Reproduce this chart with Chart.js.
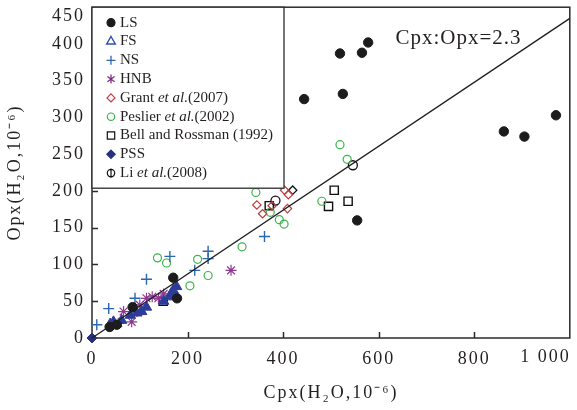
<!DOCTYPE html>
<html>
<head>
<meta charset="utf-8">
<script src="https://cdn.jsdelivr.net/npm/chart.js@4/dist/chart.umd.min.js"></script>
<style>
  html, body { margin: 0; padding: 0; background: #fff; }
</style>
</head>
<body>
<canvas id="chart" width="577" height="410"></canvas>
<script>
// DATA (Cpx vs Opx water content, 10^-6)
const lsPoints = [[37, 15], [52, 18], [85, 42], [170, 82], [178, 54], [444, 325], [519, 387], [565, 388],
  [578, 402], [525, 332], [555, 160], [862, 281], [905, 274], [971, 303]];
const fsPoints = [[38, 19], [45, 22], [62, 24], [80, 31], [94, 34], [104, 36], [114, 42], [150, 50],
  [163, 56], [166, 61], [170, 65], [177, 70]];
const nsPoints = [[10, 18], [35, 40], [90, 54], [114, 80], [163, 111], [215, 92], [243, 118], [243, 108], [361, 138]];
const hnbPoints = [[55, 20], [66, 36], [83, 22], [94, 36], [100, 45], [114, 54], [126, 56], [139, 54], [150, 60], [291, 92]];
const grantPoints = [[345, 181], [357, 169], [377, 180], [403, 201], [411, 195], [409, 176]];
const extraDiamond = [[420, 201]];
const peslierPoints = [[137, 109], [156, 102], [205, 71], [221, 107], [243, 85], [314, 124], [343, 198],
  [373, 171], [392, 161], [402, 155], [481, 186], [519, 263], [534, 243]];
const bellPoints = [[149, 50], [371, 180], [495, 179], [507, 201], [536, 186]];
const pssPoints = [[0, 0]];
const liPoints = [[384, 187], [546, 235]];

const RATIO = 2.3;          // Cpx:Opx reference line
const X_MAX = 1000;
const Y_MAX = 450;
const X_STEP = 200;
const Y_STEP = 50;

const FONT = "'Liberation Serif', 'Times New Roman', serif";
const TEXT = "#231f20";
const AXIS_SPACING = "2px";   // the figure's axis text is set wide

const toXY = pts => pts.map(([x, y]) => ({ x, y }));

// small marker painter, used for the legend box
function drawMarker(ctx, m, x, y) {
  const r = m.r;
  ctx.save();
  ctx.beginPath();
  ctx.lineWidth = m.lw || 1.2;
  ctx.strokeStyle = m.stroke;
  ctx.fillStyle = m.fill || "transparent";
  switch (m.style) {
    case "circle":
      ctx.arc(x, y, r, 0, Math.PI * 2);
      break;
    case "triangle":
      ctx.moveTo(x, y - r);
      ctx.lineTo(x + r * 0.866, y + r * 0.5);
      ctx.lineTo(x - r * 0.866, y + r * 0.5);
      ctx.closePath();
      break;
    case "cross":
      ctx.moveTo(x - r, y); ctx.lineTo(x + r, y);
      ctx.moveTo(x, y - r); ctx.lineTo(x, y + r);
      break;
    case "star":
      ctx.moveTo(x, y - r); ctx.lineTo(x, y + r);
      ctx.moveTo(x - r * 0.8, y - r * 0.6); ctx.lineTo(x + r * 0.8, y + r * 0.6);
      ctx.moveTo(x - r * 0.8, y + r * 0.6); ctx.lineTo(x + r * 0.8, y - r * 0.6);
      break;
    case "rectRot":
      ctx.moveTo(x, y - r); ctx.lineTo(x + r, y); ctx.lineTo(x, y + r); ctx.lineTo(x - r, y);
      ctx.closePath();
      break;
    case "rect":
      ctx.rect(x - r, y - r, 2 * r, 2 * r);
      break;
    case "phi":
      ctx.arc(x, y, r, 0, Math.PI * 2);
      ctx.moveTo(x, y - r - 1); ctx.lineTo(x, y + r + 1);
      break;
  }
  if (m.fill) ctx.fill();
  ctx.stroke();
  ctx.restore();
}

function fmt(v) {
  return v >= 1000 ? String(v).replace(/(\d)(?=(\d{3})+$)/g, "$1 ") : String(v);
}

// axes frame, inward ticks, shifted end labels, legend box and annotation
const framePlugin = {
  id: "frame",
  beforeDraw(chart) {
    // applies to the scale labels and titles, drawn before the datasets
    chart.ctx.letterSpacing = AXIS_SPACING;
  },
  beforeDatasetsDraw(chart) {
    const { ctx, chartArea: a, scales: { x, y } } = chart;
    ctx.save();
    ctx.strokeStyle = "#2b2b2b";
    ctx.lineWidth = 1.5;
    ctx.strokeRect(a.left, a.top, a.right - a.left, a.bottom - a.top);
    ctx.beginPath();
    x.ticks.forEach(t => {
      if (t.value <= 0 || t.value >= X_MAX) return;
      const px = Math.round(x.getPixelForValue(t.value)) + 0.5;
      ctx.moveTo(px, a.bottom); ctx.lineTo(px, a.bottom - 6);
    });
    y.ticks.forEach(t => {
      if (t.value <= 0 || t.value >= Y_MAX) return;
      const py = Math.round(y.getPixelForValue(t.value)) + 0.5;
      ctx.moveTo(a.left, py); ctx.lineTo(a.left + 6, py);
    });
    ctx.stroke();

    // end labels kept inside the canvas, as in the figure
    ctx.letterSpacing = AXIS_SPACING;
    ctx.fillStyle = TEXT;
    ctx.font = "18px " + FONT;
    ctx.textAlign = "right";
    ctx.textBaseline = "middle";
    ctx.fillText(String(Y_MAX), a.left - 7, y.getPixelForValue(Y_MAX) + 9);
    ctx.textBaseline = "top";
    ctx.fillText(fmt(X_MAX), x.getPixelForValue(X_MAX) + 1, a.bottom + 10);
    ctx.restore();
    ctx.letterSpacing = "0px";
  },
  afterDatasetsDraw(chart) {
    const { ctx, chartArea: a, scales: { x, y } } = chart;
    ctx.save();
    // reference line label
    ctx.letterSpacing = "1px";
    ctx.fillStyle = TEXT;
    ctx.font = "21px " + FONT;
    ctx.textAlign = "center";
    ctx.textBaseline = "middle";
    ctx.fillText("Cpx:Opx=" + RATIO, x.getPixelForValue(767), y.getPixelForValue(408));
    ctx.letterSpacing = "0px";

    // legend box
    const bx = a.left, by = a.top, bw = 192, bh = 181;
    ctx.fillStyle = "#fff";
    ctx.fillRect(bx, by, bw, bh);
    ctx.strokeStyle = "#2b2b2b";
    ctx.lineWidth = 1.3;
    ctx.strokeRect(bx, by, bw, bh);

    let row = 0;
    chart.data.datasets.forEach(ds => {
      if (!ds.legend) return;
      const ly = by + 15.5 + row * 18.8;
      drawMarker(ctx, ds.legend, bx + 19, ly);
      let tx = bx + 28;
      ctx.textAlign = "left";
      ctx.textBaseline = "middle";
      ctx.fillStyle = TEXT;
      const parts = ds.label.split("et al.");
      parts.forEach((p, i) => {
        ctx.font = "15px " + FONT;
        ctx.fillText(p, tx, ly);
        tx += ctx.measureText(p).width;
        if (i < parts.length - 1) {
          ctx.font = "italic 15px " + FONT;
          ctx.fillText("et al.", tx, ly);
          tx += ctx.measureText("et al.").width;
        }
      });
      row++;
    });
    ctx.restore();
  }
};

const datasets = [
  {
    type: "line", label: "ratio",
    data: [{ x: 0, y: 0 }, { x: X_MAX, y: X_MAX / RATIO }],
    borderColor: "#1e1e1e", borderWidth: 1.3, pointRadius: 0, order: 0
  },
  {
    label: "LS", data: toXY(lsPoints), pointStyle: "circle", pointRadius: 4.7,
    backgroundColor: "#1c1c1c", borderColor: "#1c1c1c", borderWidth: 1,
    legend: { style: "circle", r: 4, fill: "#1c1c1c", stroke: "#1c1c1c" }
  },
  {
    label: "FS", data: toXY(fsPoints), pointStyle: "triangle", pointRadius: 6,
    backgroundColor: "#2d3c99", borderColor: "#2d3c99", borderWidth: 1,
    legend: { style: "triangle", r: 5, stroke: "#2f4db0", lw: 1.4 }
  },
  {
    label: "NS", data: toXY(nsPoints), pointStyle: "cross", pointRadius: 5.5,
    borderColor: "#2a67b2", borderWidth: 1.4,
    legend: { style: "cross", r: 4.5, stroke: "#2a67b2", lw: 1.3 }
  },
  {
    label: "HNB", data: toXY(hnbPoints), pointStyle: "star", pointRadius: 5.5,
    borderColor: "#8d3a91", borderWidth: 1.2,
    legend: { style: "star", r: 4.5, stroke: "#7d2f82", lw: 1.3 }
  },
  {
    label: "Grant et al.(2007)", data: toXY(grantPoints), pointStyle: "rectRot", pointRadius: 4.2,
    backgroundColor: "transparent", borderColor: "#c0393b", borderWidth: 1.2,
    legend: { style: "rectRot", r: 4, stroke: "#c0393b", lw: 1.2 }
  },
  {
    label: "", data: toXY(extraDiamond), pointStyle: "rectRot", pointRadius: 4.2,
    backgroundColor: "transparent", borderColor: "#111", borderWidth: 1.3
  },
  {
    label: "Peslier et al.(2002)", data: toXY(peslierPoints), pointStyle: "circle", pointRadius: 4,
    backgroundColor: "transparent", borderColor: "#3cb44a", borderWidth: 1.2,
    legend: { style: "circle", r: 3.7, stroke: "#3cb44a", lw: 1.2 }
  },
  {
    label: "Bell and Rossman (1992)", data: toXY(bellPoints), pointStyle: "rect", pointRadius: 5.8,
    backgroundColor: "transparent", borderColor: "#111", borderWidth: 1.4,
    legend: { style: "rect", r: 3.7, stroke: "#111", lw: 1.2 }
  },
  {
    label: "PSS", data: toXY(pssPoints), pointStyle: "rectRot", pointRadius: 5,
    backgroundColor: "#27307f", borderColor: "#27307f", borderWidth: 1,
    legend: { style: "rectRot", r: 4.2, fill: "#27307f", stroke: "#27307f" }
  },
  {
    label: "Li et al.(2008)", data: toXY(liPoints), pointStyle: "circle", pointRadius: 4.5,
    backgroundColor: "transparent", borderColor: "#111", borderWidth: 1.3,
    legend: { style: "phi", r: 3.7, stroke: "#111", lw: 1.2 }
  }
].map(ds => ({ clip: false, ...ds, order: ds.order === undefined ? 1 : ds.order }));

new Chart(document.getElementById("chart").getContext("2d"), {
  type: "scatter",
  data: { datasets },
  options: {
    responsive: false,
    animation: false,
    devicePixelRatio: 1,
    layout: { padding: { top: 6, right: 5, left: 0, bottom: 0 } },
    plugins: { legend: { display: false }, tooltip: { enabled: false } },
    scales: {
      x: {
        type: "linear", min: 0, max: X_MAX,
        ticks: {
          stepSize: X_STEP, padding: 10, color: TEXT,
          font: { family: FONT, size: 18 },
          callback: v => (v >= X_MAX ? "" : fmt(v))
        },
        grid: { display: false, drawTicks: false },
        border: { display: false },
        title: {
          display: true, text: "Cpx(H₂O,10⁻⁶)", color: TEXT,
          font: { family: FONT, size: 18 }, padding: { top: 0, bottom: 6 }
        },
        afterFit(scale) {
          scale.height = 72;
          scale.paddingLeft = 0; scale.paddingRight = 0;
        }
      },
      y: {
        type: "linear", min: 0, max: Y_MAX,
        ticks: {
          stepSize: Y_STEP, padding: 7, color: TEXT,
          font: { family: FONT, size: 18 },
          callback: v => (v >= Y_MAX ? "" : String(v))
        },
        grid: { display: false, drawTicks: false },
        border: { display: false },
        title: {
          display: true, text: "Opx(H₂O,10⁻⁶)", color: TEXT,
          font: { family: FONT, size: 18 }, padding: { top: 4, bottom: 0 }
        },
        afterFit(scale) {
          scale.width = 92;
          scale.paddingTop = 0; scale.paddingBottom = 0;
        }
      }
    }
  },
  plugins: [framePlugin]
});
</script>
</body>
</html>
